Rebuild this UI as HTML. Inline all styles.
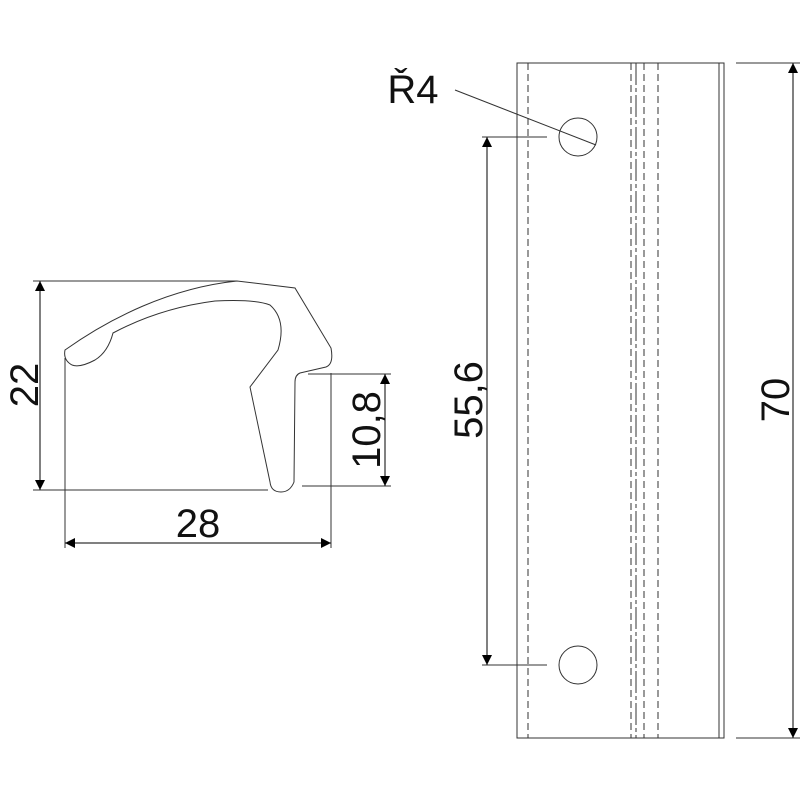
<!DOCTYPE html>
<html><head><style>body{margin:0;background:#fff}svg{display:block}</style></head><body>
<svg width="800" height="800" viewBox="0 0 800 800" xmlns="http://www.w3.org/2000/svg">
<defs>
<marker id="a" viewBox="0 0 10 10" refX="10" refY="5" markerWidth="16" markerHeight="10" markerUnits="userSpaceOnUse" orient="auto-start-reverse"><path d="M0,0L10,5L0,10z" fill="#000"/></marker>
</defs>
<g fill="none" stroke="#333" stroke-width="1">
<!-- profile -->
<path d="M65,350 C110,318 170,288 237,281 L295,288 L331,348 Q334,364 326,367 L300,373 Q295,375 295,382 L294,482 Q290,492 281,492 Q271,492 270,482 L250,387 L278,350 Q287,320 270,305 Q255,299 215,301 Q160,308 113,333 Q108,352 95,360 Q80,368 72,365 Q63,360 65,350 Z"/>
<!-- dims left -->
<line x1="33" y1="281" x2="237" y2="281"/>
<line x1="33" y1="490" x2="268" y2="490"/>
<line x1="40" y1="281" x2="40" y2="490" stroke="#000" marker-start="url(#a)" marker-end="url(#a)"/>
<line x1="65" y1="358" x2="65" y2="548"/>
<line x1="331" y1="373" x2="331" y2="548"/>
<line x1="65" y1="543" x2="331" y2="543" stroke="#000" marker-start="url(#a)" marker-end="url(#a)"/>
<line x1="308" y1="374" x2="391" y2="374"/>
<line x1="302" y1="486" x2="391" y2="486"/>
<line x1="385" y1="374" x2="385" y2="486" stroke="#000" marker-start="url(#a)" marker-end="url(#a)"/>
<!-- right part -->
<rect x="517" y="63" width="207" height="675"/>
<line x1="719" y1="63" x2="719" y2="738"/>
<line x1="636" y1="63" x2="636" y2="738" stroke-dasharray="22,3,4,3"/>
<line x1="528" y1="63" x2="528" y2="738" stroke-dasharray="7,4"/>
<line x1="631" y1="63" x2="631" y2="738" stroke-dasharray="7,4"/>
<line x1="644" y1="63" x2="644" y2="738" stroke-dasharray="7,4"/>
<line x1="658" y1="63" x2="658" y2="738" stroke-dasharray="7,4"/>
<circle cx="578" cy="137" r="19"/>
<circle cx="578" cy="665" r="19"/>
<line x1="482" y1="137" x2="547" y2="137"/>
<line x1="482" y1="665" x2="547" y2="665"/>
<line x1="487" y1="137" x2="487" y2="665" stroke="#000" marker-start="url(#a)" marker-end="url(#a)"/>
<line x1="455" y1="90" x2="596" y2="145"/>
<line x1="736" y1="63" x2="800" y2="63"/>
<line x1="736" y1="738" x2="800" y2="738"/>
<line x1="793" y1="63" x2="793" y2="738" stroke="#000" marker-start="url(#a)" marker-end="url(#a)"/>
</g>
<g font-family="Liberation Sans, sans-serif" font-size="40" fill="#111" text-anchor="middle">
<text x="198" y="537">28</text>
<text transform="translate(38,385) rotate(-90)">22</text>
<text transform="translate(380,430) rotate(-90)">10,8</text>
<text transform="translate(482,400) rotate(-90)">55,6</text>
<text transform="translate(789,400) rotate(-90)">70</text>
<text x="413" y="103">Ř4</text>
</g>
</svg>
</body></html>
